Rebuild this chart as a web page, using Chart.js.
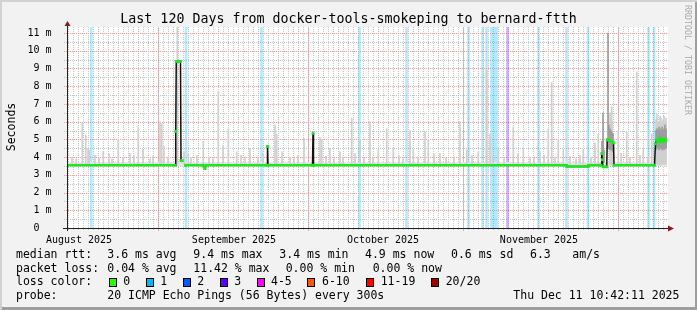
<!DOCTYPE html>
<html>
<head>
<meta charset="utf-8">
<script src="https://cdn.jsdelivr.net/npm/chart.js@4.4.1/dist/chart.umd.min.js"></script>
<style>
body{margin:0;background:#fff}
#graph{position:relative;width:697px;height:310px;background:#f2f2f2;box-shadow:inset 2px 2px 0 #d2d2d2,inset -2px -3px 0 #9e9e9e;font-family:'DejaVu Sans Mono',monospace;color:#000;overflow:hidden}
#graph canvas{position:absolute;left:0;top:0}
.t{position:absolute;white-space:pre;font-size:11.5px;line-height:14px}
.title{position:absolute;left:0;top:10.7px;width:697px;text-align:center;font-size:13.3px;line-height:16px;white-space:pre}
.box{position:absolute;top:278px;width:8px;height:9px;box-sizing:border-box;border:1px solid #000}
.ylab{position:absolute;left:-18.7px;top:119.5px;width:60px;height:14px;text-align:center;font-size:11.5px;line-height:14px;transform:rotate(-90deg)}
.brand{position:absolute;left:632.9px;top:55px;width:110px;height:10px;text-align:center;font-size:8.3px;line-height:10px;color:#aaa;transform:rotate(90deg);white-space:pre}
</style>
</head>
<body>
<div id="graph">
<canvas id="c" width="697" height="310"></canvas>
<div class="title">Last 120 Days from docker-tools-smokeping to bernard-ftth</div>
<div class="ylab">Seconds</div>
<div class="brand">RRDTOOL / TOBI OETIKER</div>

<span class="t" style="left:16px;top:247px">median rtt:</span>
<span class="t" style="left:107.3px;top:247px">3.6 ms avg</span>
<span class="t" style="left:193.3px;top:247px">9.4 ms max</span>
<span class="t" style="left:279.3px;top:247px">3.4 ms min</span>
<span class="t" style="left:365px;top:247px">4.9 ms now</span>
<span class="t" style="left:451px;top:247px">0.6 ms sd</span>
<span class="t" style="left:530px;top:247px">6.3</span>
<span class="t" style="left:572.3px;top:247px">am/s</span>

<span class="t" style="left:16px;top:260.7px">packet loss:</span>
<span class="t" style="left:107.3px;top:260.7px">0.04 % avg</span>
<span class="t" style="left:193.3px;top:260.7px">11.42 % max</span>
<span class="t" style="left:285.7px;top:260.7px">0.00 % min</span>
<span class="t" style="left:372.7px;top:260.7px">0.00 % now</span>

<span class="t" style="left:16px;top:274.4px">loss color:</span>
<div class="box" style="left:108.7px;background:#26ff00"></div><span class="t" style="left:123.3px;top:274.4px">0</span>
<div class="box" style="left:145.7px;background:#00b8ff"></div><span class="t" style="left:160.3px;top:274.4px">1</span>
<div class="box" style="left:182.7px;background:#0059ff"></div><span class="t" style="left:197.3px;top:274.4px">2</span>
<div class="box" style="left:219.7px;background:#5e00ff"></div><span class="t" style="left:234.3px;top:274.4px">3</span>
<div class="box" style="left:256.7px;background:#ff00ff"></div><span class="t" style="left:271px;top:274.4px">4-5</span>
<div class="box" style="left:307.3px;background:#ff5500"></div><span class="t" style="left:322px;top:274.4px">6-10</span>
<div class="box" style="left:365.7px;background:#ff0000"></div><span class="t" style="left:380.7px;top:274.4px">11-19</span>
<div class="box" style="left:431px;background:#a10000"></div><span class="t" style="left:445.7px;top:274.4px">20/20</span>

<span class="t" style="left:16px;top:288px">probe:</span>
<span class="t" style="left:107.3px;top:288px">20 ICMP Echo Pings (56 Bytes) every 300s</span>
<span class="t" style="left:513.3px;top:288px">Thu Dec 11 10:42:11 2025</span>
</div>
<script>
// x values are days since the left edge of the graph (120 days shown)
var monthLabels=['August 2025','September 2025','October 2025','November 2025']
var monthDays=[2.4,33.4,63.2,94.4]
var yTicks=[0,1,2,3,4,5,6,7,8,9,10,11]
var majorGridDays=[18.2,48.2,79.2,110.2]

// median rtt (ms)
var medianDays=[0,21.6,21.75,21.85,22.7,22.8,23.05,23.1,23.7,27.2,27.4,27.6,27.8,40.0,40.1,40.2,49.1,49.2,49.3,99.9,100.0,104.2,104.3,106.8,106.95,107.05,107.2,107.95,108.05,108.4,108.9,109.3,109.4,117.5,117.7,117.9,118.2,118.5,118.8,119.1,119.4,119.7,120]
var medianMs=[3.54,3.54,5.45,9.4,9.4,3.8,3.8,null,3.54,3.54,3.45,3.36,3.54,3.54,4.6,3.54,3.54,5.35,3.54,3.54,3.47,3.47,3.54,3.54,4.2,3.85,3.45,3.45,4.98,4.95,4.88,4.8,3.54,3.54,4.75,4.95,4.9,5.05,4.9,5.0,4.88,5.0,4.95]

// packet loss periods
var loss1Days=[4.86,23.8,38.9,58.5,67.9,80.3,83.1,83.9,84.9,85.4,85.9,94.3,99.9,104.2,116.3,117.4]
var loss3Days=[88.1]

// smoke: outer pings (light)
var smokeDays=[3.06,3.74,4.2,4.46,7.26,10.26,12.6,14.26,15.2,18.6,18.94,19.4,22.06,23.4,24.26,27.26,30.26,31.2,32.26,33.94,36.6,41.6,41.94,43,47.4,50.6,50.94,52.6,54.6,56.94,58.6,60.6,62.26,63.94,65.26,68.6,69.26,71.6,72.26,74.6,78.6,79.94,82.26,83.94,84.6,86.26,89.26,91.26,94.6,96.26,96.94,98.26,99.26,103.26,105.6,106.26,108.94,110.26,111.94,113.94,115.26,116.94,
  1.0,1.8,5.6,6.4,8.4,9.0,11.2,13.4,16.6,17.2,20.2,24.8,26.0,28.4,29.2,34.8,35.6,38.2,39.2,44.6,45.4,46.2,51.8,53.4,55.2,57.6,59.4,61.2,66.4,67.2,70.2,73.4,75.8,77.4,81.0,85.2,87.4,90.2,92.6,93.4,95.4,97.6,100.6,101.8,102.6,104.8,110.8,112.6,114.6,116.2,
  108.6,108.8,109.0,117.8,118.0,118.2,118.4,118.6,118.8,119.0,119.2,119.4,119.6,119.8,120.0]
var smokeTop=[5.9,5.25,4.5,4.4,4.3,4.96,4.2,5.7,4.4,6.0,5.9,4.6,11.34,4.3,4.2,4.9,7.7,4.6,5.6,4.3,4.5,5.8,5.3,4.3,5.06,5.1,5.0,4.5,4.3,6.2,5.0,6.0,4.4,5.6,4.5,5.5,4.4,5.4,5.0,4.2,6.0,4.4,4.3,8.9,5.3,4.4,5.7,4.5,4.3,5.6,8.2,5.0,4.4,4.4,4.8,5.3,6.85,5.5,5.4,8.8,4.5,5.3,
  4.0,3.9,4.1,3.95,4.2,3.9,4.0,4.1,3.9,4.05,4.0,3.95,4.1,4.0,3.9,4.1,4.0,3.95,4.2,4.0,3.9,4.1,4.05,3.9,4.0,4.2,3.95,4.0,4.1,3.9,4.0,4.15,3.95,4.0,4.1,4.0,3.9,4.2,4.0,3.95,4.1,4.0,4.05,3.9,4.1,4.0,4.2,3.95,4.1,4.0,
  6.5,6.2,6.0,6.1,6.4,5.9,6.0,6.3,6.2,5.9,6.1,6.3,6.0,6.2,6.0]

// smoke: inner pings (darker)
var coreDays=[107.0,107.2,107.4,108.2,108.4,108.6,108.8,109.0,109.2,117.8,118.0,118.2,118.4,118.6,118.8,119.0,119.2,119.4,119.6,119.8,120.0]
var coreLo=[3.8,3.7,3.7,4.5,4.5,4.4,4.4,4.4,4.3,4.4,4.5,4.5,4.4,4.5,4.5,4.4,4.5,4.4,4.5,4.5,4.5]
var coreHi=[4.9,6.5,4.4,11.0,5.8,5.6,5.5,5.4,5.3,5.5,5.6,5.5,5.7,5.6,5.5,5.7,5.5,5.6,5.8,5.6,5.5]

var bandLo=3.5, bandHi=3.72
var yMax=11.34
var green='#1ee61e'

function pts(xs,ys){ return xs.map(function(x,i){ return {x:x,y:ys[i]} }) }
function bars(xs,lo,hi){
	return xs.map(function(x,i){
		return {x:x,y:[Array.isArray(lo)?lo[i]:lo,Array.isArray(hi)?hi[i]:hi]}
	})
}

var rrdFrame={
	id:'rrdFrame',
	beforeDatasetsDraw:function(chart){
		var c=chart.ctx,a=chart.chartArea,xs=chart.scales.x,ys=chart.scales.y,i,p
		c.save()
		c.fillStyle='#fff'
		c.fillRect(a.left,a.top,a.right-a.left+1,a.bottom-a.top)
		c.lineWidth=1
		c.setLineDash([1,1])
		// minor grid
		c.strokeStyle='#c6c6c6'
		for(i=1;i*0.5<ys.max;i+=2){
			p=Math.round(ys.getPixelForValue(i*0.5))+0.5
			c.beginPath();c.moveTo(a.left-3,p);c.lineTo(a.right+1,p);c.stroke()
		}
		for(i=0;i<120;i++){
			p=Math.round(xs.getPixelForValue(0.2+i))+0.5
			c.beginPath();c.moveTo(p,a.bottom+2);c.lineTo(p,a.top);c.stroke()
		}
		// major grid
		c.strokeStyle='#f0a2a2'
		for(i=1;i<yTicks.length;i++){
			p=Math.round(ys.getPixelForValue(yTicks[i]))+0.5
			c.beginPath();c.moveTo(a.left-3,p);c.lineTo(a.right+1,p);c.stroke()
		}
		majorGridDays.forEach(function(d){
			p=Math.round(xs.getPixelForValue(d))+0.5
			c.beginPath();c.moveTo(p,a.bottom+3);c.lineTo(p,a.top);c.stroke()
		})
		c.restore()
	},
	afterDatasetsDraw:function(chart){
		var c=chart.ctx,a=chart.chartArea
		var yb=Math.round(a.bottom)+0.5,xl=Math.round(a.left)+0.5
		c.save()
		c.strokeStyle='#222'
		c.lineWidth=1
		c.beginPath();c.moveTo(a.left-4,yb);c.lineTo(a.right+2,yb);c.stroke()
		c.beginPath();c.moveTo(xl,a.bottom+3);c.lineTo(xl,a.top-2);c.stroke()
		c.fillStyle='#8b1a1a'
		c.beginPath();c.moveTo(a.right+1,yb-3);c.lineTo(a.right+7,yb);c.lineTo(a.right+1,yb+3);c.closePath();c.fill()
		c.beginPath();c.moveTo(xl-3,a.top-1);c.lineTo(xl,a.top-6);c.lineTo(xl+3,a.top-1);c.closePath();c.fill()
		c.restore()
	}
}

new Chart(document.getElementById('c'),{
	type:'bar',
	data:{
		datasets:[
			{type:'bar',data:bars(loss1Days,0,yMax),backgroundColor:'rgba(0,184,255,0.3)',barThickness:2,grouped:false,order:9},
			{type:'bar',data:bars(loss3Days,0,yMax),backgroundColor:'rgba(94,0,255,0.3)',barThickness:2,grouped:false,order:9},
			{type:'line',data:[{x:0,y:bandHi},{x:120,y:bandHi}],fill:{value:bandLo},backgroundColor:'#e4e4e4',borderWidth:0,pointRadius:0,order:8},
			{type:'bar',data:bars(smokeDays,3.6,smokeTop),backgroundColor:'#cfcfcf',barThickness:1,grouped:false,order:7},
			{type:'bar',data:bars(coreDays,coreLo,coreHi),backgroundColor:'#9c9c9c',barThickness:1,grouped:false,order:6},
			{type:'line',data:pts(medianDays,medianMs),borderColor:'#111',borderWidth:1.5,pointRadius:0,spanGaps:false,order:2},
			{type:'line',data:pts(medianDays,medianMs),borderColor:green,borderWidth:2.6,spanGaps:false,order:1,
				pointStyle:'rect',pointRadius:2,pointBorderWidth:0,pointBackgroundColor:green,
				segment:{borderColor:function(s){
					return Math.abs(s.p1.y-s.p0.y)>2*Math.abs(s.p1.x-s.p0.x)?'rgba(0,0,0,0)':green
				}}}
		]
	},
	options:{
		animation:false,
		responsive:false,
		devicePixelRatio:1,
		layout:{padding:{left:0,top:27,right:30,bottom:62}},
		plugins:{legend:{display:false},tooltip:{enabled:false}},
		scales:{
			x:{type:'linear',min:0,max:120,offset:false,
				grid:{display:false},border:{display:false},
				afterBuildTicks:function(s){ s.ticks=monthDays.map(function(v){return {value:v}}) },
				afterFit:function(s){ s.height=20 },
				ticks:{autoSkip:false,maxRotation:0,padding:-2,color:'#000',
					font:{family:'DejaVu Sans Mono',size:10},
					callback:function(v,i){ return monthLabels[i] }}},
			y:{type:'linear',min:0,max:yMax,
				grid:{display:false},border:{display:false},
				afterBuildTicks:function(s){ s.ticks=yTicks.map(function(v){return {value:v}}) },
				afterFit:function(s){ s.width=67 },
				ticks:{padding:7.5,color:'#000',
					font:{family:'DejaVu Sans Mono',size:10},
					callback:function(v){ return v===0?'0  ':v+' m' }}}
		}
	},
	plugins:[rrdFrame]
})
</script>
</body>
</html>
